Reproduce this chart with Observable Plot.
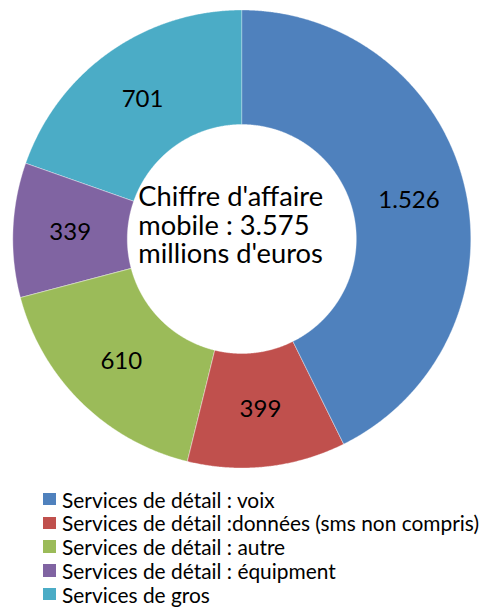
<!DOCTYPE html>
<html><head><meta charset="utf-8">
<script src="https://cdn.jsdelivr.net/npm/d3@7"></script>
<script src="https://cdn.jsdelivr.net/npm/@observablehq/plot@0.6"></script>
<style>
html,body{margin:0;padding:0;background:#fff;}
body{width:485px;height:608px;overflow:hidden;font-family:Lato,"Noto Sans",sans-serif;}
#legend{margin:0;padding:0;position:relative;}
.row{position:absolute;left:43px;height:24px;display:flex;align-items:center;white-space:nowrap;font-size:20.9px;color:#000;}
.sw{width:13px;height:12.5px;margin-right:6px;flex:none;}
</style></head><body><div id="chart"></div><div id="legend"></div>
<script>
const categories = [
  "Services de détail : voix",
  "Services de détail :données (sms non compris)",
  "Services de détail : autre",
  "Services de détail : équipment",
  "Services de gros"
];
const values = [1526, 399, 610, 339, 701];
const valueLabels = ["1.526", "399", "610", "339", "701"];
const colors = ["#4F81BD", "#C0504D", "#9BBB59", "#8064A2", "#4BACC6"];
const centerText = "Chiffre d'affaire\nmobile : 3.575\nmillions d'euros";

const data = categories.map((c, i) => ({category: c, value: values[i], label: valueLabels[i]}));
const pie = d3.pie().sort(null).value(d => d.value)(data);
const R = 1, R0 = 0.5;
const pt = (a, r) => [r * Math.sin(a), -r * Math.cos(a)];
const slices = pie.map(p => {
  const span = p.endAngle - p.startAngle;
  const n = Math.max(4, Math.ceil(span / 0.005));
  const outer = d3.range(n + 1).map(k => pt(p.startAngle + span * k / n, R));
  const inner = d3.range(n + 1).map(k => pt(p.endAngle - span * k / n, R0));
  return {type: "Feature", properties: {category: p.data.category},
          geometry: {type: "Polygon", coordinates: [[...outer, ...inner, outer[0]]]}};
});
const labelPts = pie.map(p => {
  const [x, y] = pt((p.startAngle + p.endAngle) / 2, (R + R0) / 2);
  return {x, y, label: p.data.label};
});
const frame = {type: "Polygon", coordinates: [[[-1, -1], [1, -1], [1, 1], [-1, 1], [-1, -1]]]};

const chart = Plot.plot({
  width: 485,
  height: 478,
  marginLeft: 12.3,
  marginRight: 14.7,
  marginTop: 9.5,
  marginBottom: 10.5,
  projection: {type: "identity", domain: frame},
  color: {domain: categories, range: colors},
  style: {fontFamily: "Lato, 'Noto Sans', sans-serif", background: "#fff"},
  marks: [
    Plot.geo(slices, {fill: d => d.properties.category, stroke: "#fff", strokeWidth: 0.6, strokeOpacity: 0.6}),
    Plot.text(labelPts, {x: "x", y: "y", text: "label", fontSize: 24, fill: "#000"}),
    Plot.text([centerText], {frameAnchor: "middle", textAnchor: "start", dx: -103.5, dy: -13.5, fontSize: 27.3, lineHeight: 1.03, fill: "#000"})
  ]
});
document.getElementById("chart").appendChild(chart);

const legend = document.getElementById("legend");
categories.forEach((c, i) => {
  const row = document.createElement("div");
  row.className = "row";
  row.style.top = (9 + i * 23.8) + "px";
  const sw = document.createElement("span");
  sw.className = "sw";
  sw.style.background = colors[i];
  const tx = document.createElement("span");
  tx.textContent = c;
  row.appendChild(sw);
  row.appendChild(tx);
  legend.appendChild(row);
});
</script>
</body></html>
